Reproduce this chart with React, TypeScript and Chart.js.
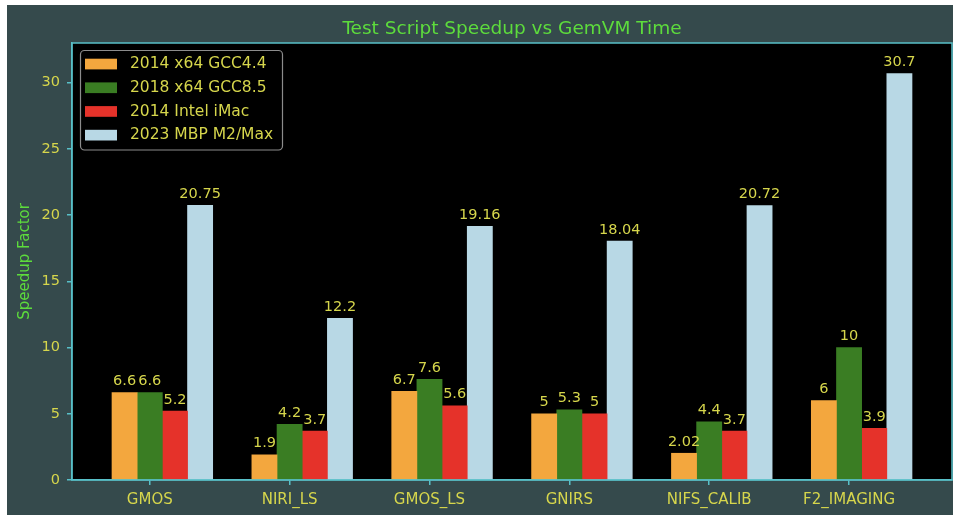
import React, { useEffect, useRef } from "react";
import { Chart, registerables } from "chart.js";

Chart.register(...registerables);

// ---------- data ----------
const categories = ["GMOS", "NIRI_LS", "GMOS_LS", "GNIRS", "NIFS_CALIB", "F2_IMAGING"];
const seriesNames = ["2014 x64 GCC4.4", "2018 x64 GCC8.5", "2014 Intel iMac", "2023 MBP M2/Max"];
const gcc44 = [6.6, 1.9, 6.7, 5, 2.02, 6];
const gcc85 = [6.6, 4.2, 7.6, 5.3, 4.4, 10];
const intelImac = [5.2, 3.7, 5.6, 5, 3.7, 3.9];
const m2Max = [20.75, 12.2, 19.16, 18.04, 20.72, 30.7];
const yTicks = [0, 5, 10, 15, 20, 25, 30];
const yMax = 33.0;
const chartTitle = "Test Script Speedup vs GemVM Time";
const yAxisTitle = "Speedup Factor";

// ---------- style ----------
const seriesColors = ["#f3a73e", "#3a7d23", "#e5322a", "#b8d8e5"];
const BG = "#354a4c";
const SPINE = "#58c0c8";
const YELLOW = "#d6d64c";
const GREEN = "#5ddc3c";
const FONT = "'DejaVu Sans', sans-serif";
const BAR_W = 0.18;

const seriesValues = [gcc44, gcc85, intelImac, m2Max];

export default function App() {
  const ref = useRef<HTMLCanvasElement | null>(null);

  useEffect(() => {
    const canvas = ref.current;
    if (!canvas) return;

    const span = categories.length - 1 + 4 * BAR_W;
    const xMin = -BAR_W / 2 - 0.05 * span;
    const xMax = categories.length - 1 + 3.5 * BAR_W + 0.05 * span;

    const decor = {
      id: "decor",
      beforeDraw(chart: any) {
        const { ctx, chartArea: a, width, height } = chart;
        ctx.save();
        ctx.fillStyle = BG;
        ctx.fillRect(0, 0, width, height);
        ctx.fillStyle = "#000";
        ctx.fillRect(a.left, a.top, a.right - a.left, a.bottom - a.top);
        ctx.restore();
      },
      afterDraw(chart: any) {
        const { ctx, chartArea: a } = chart;
        ctx.save();
        // spines
        ctx.strokeStyle = SPINE;
        ctx.lineWidth = 1.5;
        ctx.strokeRect(a.left, a.top, a.right - a.left, a.bottom - a.top);

        // value labels
        ctx.fillStyle = YELLOW;
        ctx.font = `14.5px ${FONT}`;
        ctx.textAlign = "center";
        ctx.textBaseline = "alphabetic";
        chart.data.datasets.forEach((_ds: any, di: number) => {
          const meta = chart.getDatasetMeta(di);
          meta.data.forEach((el: any, i: number) => {
            const v = seriesValues[di][i];
            ctx.fillText(String(v), el.x, el.y - 7.5);
          });
        });

        // title
        ctx.fillStyle = GREEN;
        ctx.font = `18.5px ${FONT}`;
        ctx.textAlign = "center";
        ctx.fillText(chartTitle, (a.left + a.right) / 2, 28.5);

        // y axis title
        ctx.save();
        ctx.translate(18, (a.top + a.bottom) / 2);
        ctx.rotate(-Math.PI / 2);
        ctx.font = `15px ${FONT}`;
        ctx.textBaseline = "middle";
        ctx.fillText(yAxisTitle, 0, 0);
        ctx.restore();

        // legend
        const lx = a.left + 8.5;
        const ly = a.top + 7.5;
        const lw = 202;
        const lh = 99.5;
        ctx.beginPath();
        ctx.roundRect(lx, ly, lw, lh, 4);
        ctx.fillStyle = "#000";
        ctx.fill();
        ctx.strokeStyle = "#8c8c8c";
        ctx.lineWidth = 1.2;
        ctx.stroke();
        ctx.font = `15.5px ${FONT}`;
        ctx.textAlign = "left";
        ctx.textBaseline = "middle";
        seriesNames.forEach((name, k) => {
          const sy = ly + 8.2 + k * 23.7;
          ctx.fillStyle = seriesColors[k];
          ctx.fillRect(lx + 4.5, sy, 32, 10.7);
          ctx.fillStyle = YELLOW;
          ctx.fillText(name, lx + 49.5, sy + 5.6);
        });
        ctx.restore();
      },
    };

    const chart = new Chart(canvas, {
      type: "bar",
      data: {
        datasets: seriesValues.map((vals, k) => ({
          label: seriesNames[k],
          data: vals.map((v, i) => ({ x: i + k * BAR_W, y: v })),
          backgroundColor: seriesColors[k],
          borderWidth: 0,
          grouped: false,
          barPercentage: 1,
          categoryPercentage: 1,
        })),
      },
      options: {
        responsive: false,
        animation: false,
        events: [],
        layout: { padding: { top: 38, right: 1, left: 0, bottom: 0 } },
        plugins: {
          legend: { display: false },
          title: { display: false },
          tooltip: { enabled: false },
        },
        scales: {
          x: {
            type: "linear",
            offset: false,
            min: xMin,
            max: xMax,
            afterBuildTicks: (scale: any) => {
              scale.ticks = categories.map((_, i) => ({ value: i + BAR_W }));
            },
            afterFit: (scale: any) => {
              scale.height = 35;
            },
            ticks: {
              autoSkip: false,
              maxRotation: 0,
              color: YELLOW,
              font: { family: FONT, size: 15 },
              padding: 6,
              callback: (_v: any, index: number) => categories[index],
            },
            grid: {
              display: true,
              drawOnChartArea: false,
              drawTicks: true,
              tickLength: 5,
              color: SPINE,
              lineWidth: 1.5,
              offset: false,
            },
            border: { display: true, color: SPINE, width: 1.5 },
          },
          y: {
            min: 0,
            max: yMax,
            afterBuildTicks: (scale: any) => {
              scale.ticks = yTicks.map((v) => ({ value: v }));
            },
            afterFit: (scale: any) => {
              scale.width = 65;
            },
            ticks: {
              color: YELLOW,
              font: { family: FONT, size: 14.5 },
              padding: 7,
              callback: (v: any) => String(v),
            },
            grid: {
              display: true,
              drawOnChartArea: false,
              drawTicks: true,
              tickLength: 5,
              color: SPINE,
              lineWidth: 1.5,
            },
            border: { display: true, color: SPINE, width: 1.5 },
          },
        },
      },
      plugins: [decor],
    } as any);

    return () => chart.destroy();
  }, []);

  return (
    <div style={{ position: "fixed", left: 7, top: 5, width: 946, height: 510 }}>
      <canvas ref={ref} width={946} height={510} style={{ display: "block", width: 946, height: 510 }} />
    </div>
  );
}
